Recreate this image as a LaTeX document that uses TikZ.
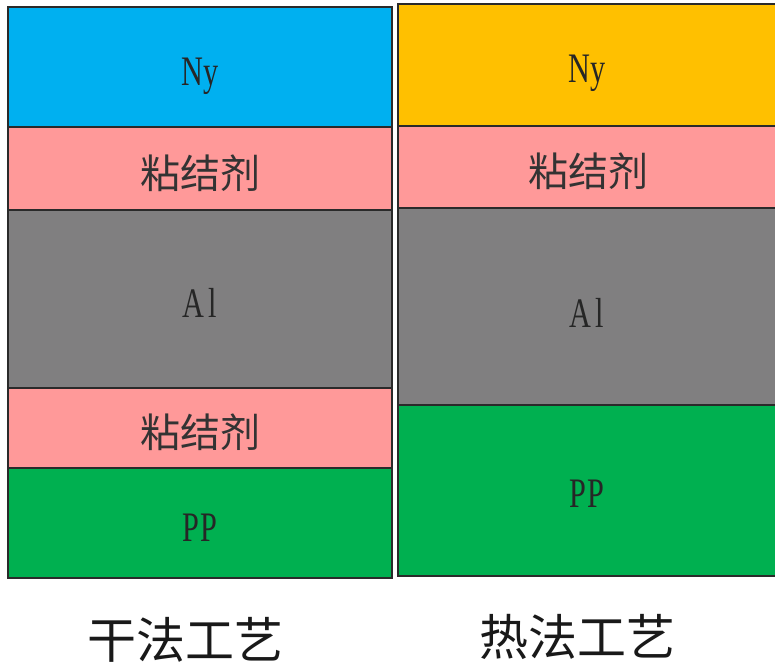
\documentclass[tikz,border=0pt]{standalone}
\usepackage{fontspec}
\setmainfont{Liberation Serif}
\newfontfamily\cjk{Noto Sans CJK SC}
\newcommand{\narrowtxt}[1]{\scalebox{0.72}[1]{#1}}
\definecolor{nyblue}{HTML}{00B0F0}
\definecolor{nyorange}{HTML}{FFC000}
\definecolor{glue}{HTML}{FF9999}
\definecolor{algray}{HTML}{807F80}
\definecolor{ppgreen}{HTML}{00B050}
\definecolor{edge}{HTML}{2A2A2A}
\begin{document}
\begin{tikzpicture}[x=1pt,y=-1pt,
  layer/.style={draw=edge,line width=1.5pt},
  lat/.style={font=\fontsize{42}{42}\selectfont,text=black!85,inner sep=0pt},
  han/.style={font=\cjk\fontsize{40}{40}\selectfont,text=black!80,inner sep=0pt},
  captext/.style={font=\cjk\fontsize{49}{49}\selectfont,text=black!90,inner sep=0pt}]
\useasboundingbox (0,0) rectangle (775,666);
\fill[white] (0,0) rectangle (775,666);
% left column (dry process)
\filldraw[layer,fill=nyblue] (8,7) rectangle (392,127);
\filldraw[layer,fill=glue] (8,127) rectangle (392,210);
\filldraw[layer,fill=algray] (8,210) rectangle (392,388);
\filldraw[layer,fill=glue] (8,388) rectangle (392,468);
\filldraw[layer,fill=ppgreen] (8,468) rectangle (392,578);
\node[lat,anchor=base] (lny) at (200,85) {\narrowtxt{Ny}};
\node[han] (lg1) at (200,173) {粘结剂};
\node[lat,anchor=base] (lal) at (200,317) {\narrowtxt{A\kern6pt l}};
\node[han] (lg2) at (200,432) {粘结剂};
\node[lat,anchor=base] (lpp) at (200,541) {\narrowtxt{P\kern2pt P}};
% right column (hot process)
\filldraw[layer,fill=nyorange] (398,4) rectangle (778,126);
\filldraw[layer,fill=glue] (398,126) rectangle (778,208);
\filldraw[layer,fill=algray] (398,208) rectangle (778,405);
\filldraw[layer,fill=ppgreen] (398,405) rectangle (778,576);
\node[lat,anchor=base] (rny) at (587,83) {\narrowtxt{Ny}};
\node[han] (rg1) at (588,171) {粘结剂};
\node[lat,anchor=base] (ral) at (587,327) {\narrowtxt{A\kern6pt l}};
\node[lat,anchor=base] (rpp) at (587,507) {\narrowtxt{P\kern2pt P}};
% captions
\node[captext] (dry) at (185,640) {干法工艺};
\node[captext] (hot) at (577,637) {热法工艺};
\end{tikzpicture}
\end{document}
